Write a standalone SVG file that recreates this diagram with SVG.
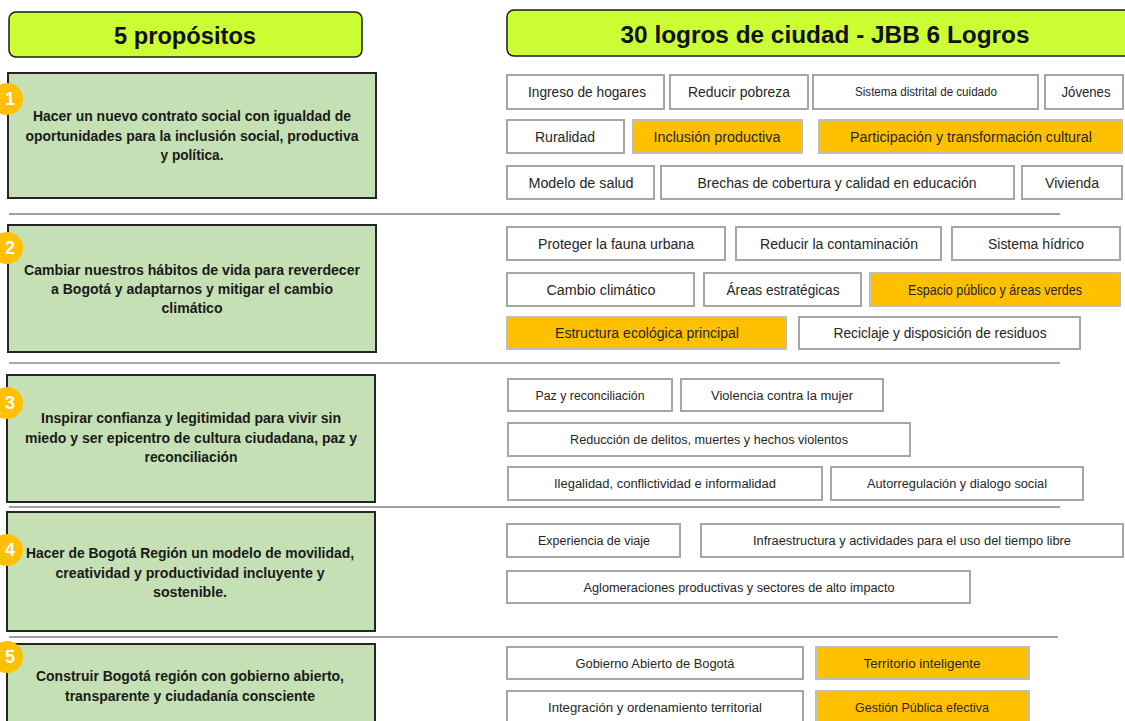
<svg xmlns="http://www.w3.org/2000/svg" width="1125" height="721" viewBox="0 0 1125 721">
<style>
.hdr{fill:#ccff33;stroke:#1a1a1a;stroke-width:1.5}
.ht{font-family:"Liberation Sans",Arial,sans-serif;font-weight:bold;font-size:23px;fill:#111;text-anchor:middle}
.pb{fill:#c5e0b4;stroke:#262626;stroke-width:2}
.pt{font-family:"Liberation Sans",Arial,sans-serif;font-weight:bold;font-size:14px;fill:#1a1a1a;text-anchor:middle}
.num{fill:#ffc000}
.nt{font-family:"Liberation Sans",Arial,sans-serif;font-weight:bold;font-size:18px;fill:#fff;text-anchor:middle}
.w{fill:#fff;stroke:#a6a6a6;stroke-width:2}
.o{fill:#ffc000;stroke:#bfbfbf;stroke-width:2}
.t{font-family:"Liberation Sans",Arial,sans-serif;font-size:14px;fill:#262626;text-anchor:middle}
.s{font-family:"Liberation Sans",Arial,sans-serif;font-size:12.5px;fill:#262626;text-anchor:middle}
.xs{font-family:"Liberation Sans",Arial,sans-serif;font-size:12px;fill:#262626;text-anchor:middle}
.sep{stroke:#404040;stroke-width:1}
.sep2{stroke:#8c8c8c;stroke-width:1.5}
</style>
<rect width="1125" height="721" fill="#fff"/>

<g id="header-propositos">
<rect class="hdr" x="9" y="12" width="353" height="45" rx="7"/>
<text class="ht" x="185" y="44" textLength="142" lengthAdjust="spacingAndGlyphs">5 propósitos</text>
</g>
<g id="header-logros">
<rect class="hdr" x="507" y="10" width="630" height="46" rx="7"/>
<text class="ht" x="825" y="43" textLength="409" lengthAdjust="spacingAndGlyphs">30 logros de ciudad - JBB 6 Logros</text>
</g>

<g id="connectors">
<line class="sep" x1="9" y1="214" x2="1060" y2="214"/>
<line class="sep2" x1="9" y1="363" x2="1060" y2="363"/>
<line class="sep" x1="9" y1="507" x2="1060" y2="507"/>
<line class="sep" x1="9" y1="637" x2="1058" y2="637"/>
</g>

<g id="proposito-1">
<rect class="pb" x="8" y="73" width="368" height="125"/>
<circle class="num" cx="7" cy="99" r="16"/>
<text class="nt" x="10" y="105">1</text>
<text class="pt" x="192" y="121" textLength="318" lengthAdjust="spacingAndGlyphs">Hacer un nuevo contrato social con igualdad de</text>
<text class="pt" x="192" y="141" textLength="333" lengthAdjust="spacingAndGlyphs">oportunidades para la inclusión social, productiva</text>
<text class="pt" x="192" y="160" textLength="63" lengthAdjust="spacingAndGlyphs">y política.</text>
</g>
<g id="proposito-2">
<rect class="pb" x="8" y="225" width="368" height="127"/>
<circle class="num" cx="7" cy="248" r="16"/>
<text class="nt" x="10" y="254">2</text>
<text class="pt" x="192" y="275" textLength="336" lengthAdjust="spacingAndGlyphs">Cambiar nuestros hábitos de vida para reverdecer</text>
<text class="pt" x="192" y="294" textLength="282" lengthAdjust="spacingAndGlyphs">a Bogotá y adaptarnos y mitigar el cambio</text>
<text class="pt" x="192" y="313" textLength="61" lengthAdjust="spacingAndGlyphs">climático</text>
</g>
<g id="proposito-3">
<rect class="pb" x="7" y="375" width="368" height="127"/>
<circle class="num" cx="7" cy="403" r="16"/>
<text class="nt" x="10" y="409">3</text>
<text class="pt" x="191" y="423" textLength="300" lengthAdjust="spacingAndGlyphs">Inspirar confianza y legitimidad para vivir  sin</text>
<text class="pt" x="191" y="443" textLength="332" lengthAdjust="spacingAndGlyphs">miedo y ser epicentro de cultura ciudadana, paz y</text>
<text class="pt" x="191" y="462" textLength="93" lengthAdjust="spacingAndGlyphs">reconciliación</text>
</g>
<g id="proposito-4">
<rect class="pb" x="7" y="512" width="368" height="119"/>
<circle class="num" cx="7" cy="550" r="16"/>
<text class="nt" x="10" y="556">4</text>
<text class="pt" x="190" y="558" textLength="328" lengthAdjust="spacingAndGlyphs">Hacer de Bogotá Región un modelo de movilidad,</text>
<text class="pt" x="190" y="578" textLength="269" lengthAdjust="spacingAndGlyphs">creatividad y productividad incluyente y</text>
<text class="pt" x="190" y="597" textLength="74" lengthAdjust="spacingAndGlyphs">sostenible.</text>
</g>
<g id="proposito-5">
<rect class="pb" x="7" y="644" width="368" height="90"/>
<circle class="num" cx="7" cy="657" r="16"/>
<text class="nt" x="10" y="663">5</text>
<text class="pt" x="190" y="681" textLength="308" lengthAdjust="spacingAndGlyphs">Construir Bogotá región con gobierno abierto,</text>
<text class="pt" x="190" y="701" textLength="250" lengthAdjust="spacingAndGlyphs">transparente y ciudadanía consciente</text>
</g>

<g id="logros-1">
<g id="l-ingreso"><rect class="w" x="507" y="75" width="157" height="34"/><text class="t" x="587" y="97" textLength="118" lengthAdjust="spacingAndGlyphs">Ingreso de hogares</text></g>
<g id="l-pobreza"><rect class="w" x="670" y="75" width="138" height="34"/><text class="t" x="739" y="97" textLength="102" lengthAdjust="spacingAndGlyphs">Reducir pobreza</text></g>
<g id="l-cuidado"><rect class="w" x="813" y="75" width="225" height="34"/><text class="xs" x="926" y="96" textLength="142" lengthAdjust="spacingAndGlyphs">Sistema distrital de cuidado</text></g>
<g id="l-jovenes"><rect class="w" x="1045" y="75" width="78" height="34"/><text class="t" x="1086" y="97" textLength="49" lengthAdjust="spacingAndGlyphs">Jóvenes</text></g>
<g id="l-ruralidad"><rect class="w" x="507" y="120" width="117" height="33"/><text class="t" x="565" y="142" textLength="60" lengthAdjust="spacingAndGlyphs">Ruralidad</text></g>
<g id="l-inclusion"><rect class="o" x="633" y="120" width="169" height="33"/><text class="t" x="717" y="142" textLength="127" lengthAdjust="spacingAndGlyphs">Inclusión productiva</text></g>
<g id="l-participacion"><rect class="o" x="819" y="120" width="303" height="33"/><text class="t" x="971" y="142" textLength="242" lengthAdjust="spacingAndGlyphs">Participación y transformación cultural</text></g>
<g id="l-salud"><rect class="w" x="507" y="166" width="147" height="33"/><text class="t" x="581" y="188" textLength="105" lengthAdjust="spacingAndGlyphs">Modelo de salud</text></g>
<g id="l-brechas"><rect class="w" x="661" y="166" width="353" height="33"/><text class="t" x="837" y="188" textLength="279" lengthAdjust="spacingAndGlyphs">Brechas de cobertura y calidad en educación</text></g>
<g id="l-vivienda"><rect class="w" x="1022" y="166" width="100" height="33"/><text class="t" x="1072" y="188" textLength="54" lengthAdjust="spacingAndGlyphs">Vivienda</text></g>
</g>

<g id="logros-2">
<g id="l-fauna"><rect class="w" x="507" y="227" width="218" height="33"/><text class="t" x="616" y="249" textLength="156" lengthAdjust="spacingAndGlyphs">Proteger la fauna urbana</text></g>
<g id="l-contaminacion"><rect class="w" x="736" y="227" width="205" height="33"/><text class="t" x="839" y="249" textLength="158" lengthAdjust="spacingAndGlyphs">Reducir la contaminación</text></g>
<g id="l-hidrico"><rect class="w" x="952" y="227" width="168" height="33"/><text class="t" x="1036" y="249" textLength="96" lengthAdjust="spacingAndGlyphs">Sistema hídrico</text></g>
<g id="l-clima"><rect class="w" x="507" y="273" width="187" height="33"/><text class="t" x="601" y="295" textLength="109" lengthAdjust="spacingAndGlyphs">Cambio climático</text></g>
<g id="l-areas"><rect class="w" x="704" y="273" width="157" height="33"/><text class="t" x="783" y="295" textLength="113" lengthAdjust="spacingAndGlyphs">Áreas estratégicas</text></g>
<g id="l-espacio"><rect class="o" x="870" y="273" width="250" height="33"/><text class="t" x="995" y="295" textLength="174" lengthAdjust="spacingAndGlyphs">Espacio público y áreas verdes</text></g>
<g id="l-estructura"><rect class="o" x="507" y="317" width="279" height="32"/><text class="t" x="647" y="338" textLength="184" lengthAdjust="spacingAndGlyphs">Estructura ecológica principal</text></g>
<g id="l-reciclaje"><rect class="w" x="799" y="317" width="281" height="32"/><text class="t" x="940" y="338" textLength="213" lengthAdjust="spacingAndGlyphs">Reciclaje y disposición de residuos</text></g>
</g>

<g id="logros-3">
<g id="l-paz"><rect class="w" x="508" y="379" width="164" height="32"/><text class="s" x="590" y="400" textLength="109" lengthAdjust="spacingAndGlyphs">Paz y reconciliación</text></g>
<g id="l-violencia"><rect class="w" x="681" y="379" width="202" height="32"/><text class="s" x="782" y="400" textLength="142" lengthAdjust="spacingAndGlyphs">Violencia contra la mujer</text></g>
<g id="l-delitos"><rect class="w" x="508" y="423" width="402" height="33"/><text class="s" x="709" y="444" textLength="278" lengthAdjust="spacingAndGlyphs">Reducción de delitos, muertes y hechos violentos</text></g>
<g id="l-ilegalidad"><rect class="w" x="508" y="467" width="314" height="33"/><text class="s" x="665" y="488" textLength="222" lengthAdjust="spacingAndGlyphs">Ilegalidad, conflictividad e informalidad</text></g>
<g id="l-autorregulacion"><rect class="w" x="831" y="467" width="252" height="33"/><text class="s" x="957" y="488" textLength="180" lengthAdjust="spacingAndGlyphs">Autorregulación y dialogo social</text></g>
</g>

<g id="logros-4">
<g id="l-viaje"><rect class="w" x="507" y="524" width="173" height="33"/><text class="s" x="594" y="545" textLength="112" lengthAdjust="spacingAndGlyphs">Experiencia de viaje</text></g>
<g id="l-infra"><rect class="w" x="701" y="524" width="422" height="33"/><text class="s" x="912" y="545" textLength="318" lengthAdjust="spacingAndGlyphs">Infraestructura y actividades para el uso del tiempo libre</text></g>
<g id="l-aglomeraciones"><rect class="w" x="507" y="571" width="463" height="32"/><text class="s" x="739" y="592" textLength="311" lengthAdjust="spacingAndGlyphs">Aglomeraciones productivas y sectores de alto impacto</text></g>
</g>

<g id="logros-5">
<g id="l-gobierno"><rect class="w" x="507" y="647" width="296" height="32"/><text class="s" x="655" y="668" textLength="159" lengthAdjust="spacingAndGlyphs">Gobierno Abierto de Bogotá</text></g>
<g id="l-territorio"><rect class="o" x="816" y="647" width="213" height="32"/><text class="s" x="922" y="668" textLength="117" lengthAdjust="spacingAndGlyphs">Territorio inteligente</text></g>
<g id="l-integracion"><rect class="w" x="507" y="691" width="296" height="40"/><text class="s" x="655" y="712" textLength="214" lengthAdjust="spacingAndGlyphs">Integración y ordenamiento territorial</text></g>
<g id="l-gestion"><rect class="o" x="816" y="691" width="213" height="40"/><text class="s" x="922" y="712" textLength="134" lengthAdjust="spacingAndGlyphs">Gestión Pública efectiva</text></g>
</g>
</svg>
